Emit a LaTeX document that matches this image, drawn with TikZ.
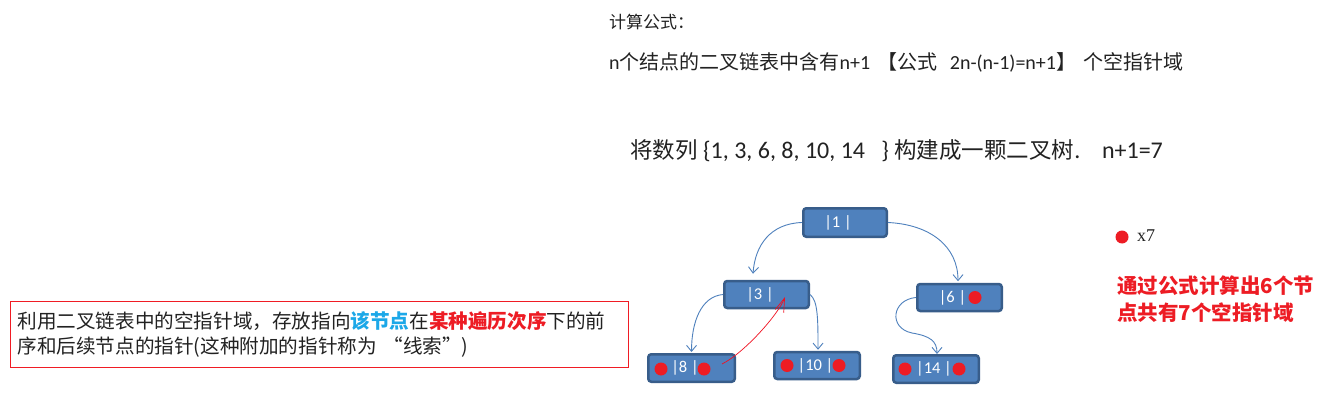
\documentclass[tikz,border=0pt]{standalone}
\usepackage{fontspec}
\setmainfont{Noto Sans CJK SC}
\newfontfamily\latinfont{Carlito}
\newfontfamily\seriffont{Liberation Serif}
\newcommand\lat[1]{{\latinfont #1}}
\usetikzlibrary{arrows.meta}
\definecolor{nodeblue}{HTML}{4F81BD}
\definecolor{nodeedge}{HTML}{385D8A}
\definecolor{dotred}{HTML}{ED1C24}
\definecolor{threadred}{HTML}{F01020}
\definecolor{hlblue}{HTML}{1CA8E8}
\definecolor{linkblue}{HTML}{4F81BD}
\definecolor{boxred}{HTML}{F01C24}
\definecolor{textgray}{HTML}{222222}
\begin{document}
\begin{tikzpicture}[x=1pt,y=-1pt,
  treenode/.style={rectangle, rounded corners=3pt, fill=nodeblue, draw=nodeedge, line width=2.5pt,
    minimum width=84.5pt, minimum height=27pt, inner sep=0pt},
  nodelabel/.style={text=white, font=\latinfont\fontsize{16.5}{16.5}\selectfont, inner sep=0pt},
  nulldot/.style={circle, fill=dotred, minimum size=13pt, inner sep=0pt},
  link/.style={draw=linkblue, line width=0.9pt, -{Straight Barb[length=6pt,width=10pt]}},
  thread/.style={draw=threadred, line width=0.7pt, -{Straight Barb[length=14pt,width=9pt]}},
  plain/.style={inner sep=0pt, anchor=west, text=textgray}
]
\useasboundingbox[fill=white] (0,0) rectangle (1340,406);

% top texts
\node[plain, font=\fontsize{17}{17}\selectfont] (head) at (609,22) {计算公式：};
\node[plain, font=\fontsize{20}{20}\selectfont] (formula) at (609,62)
  {\lat{n}个结点的二叉链表中含有\lat{n+1 \hspace{3pt}}【公式\lat{\ \ \hspace{3pt}2n-(n-1)=n+1}】\lat{\ \hspace{3pt}}个空指针域};
\node[plain, font=\fontsize{22.5}{22.5}\selectfont] (title) at (630,151)
  {将数列\lat{\fontsize{24}{24}\selectfont\ \{1, 3, 6, 8, 10, 14\ \ \ \}\ }构建成一颗二叉树\lat{\fontsize{24}{24}\selectfont.\ \ \ \ n+1=7}};

% tree nodes
\node[treenode, minimum width=83.5pt, minimum height=28.5pt] (n1) at (845,222.5) {};
\node[treenode] (n3) at (766.5,294.5) {};
\node[treenode] (n6) at (959.5,297.5) {};
\node[treenode, minimum height=27.5pt, minimum width=86.5pt] (n8) at (691.5,368) {};
\node[treenode, minimum width=85.5pt] (n10) at (817,365.5) {};
\node[treenode, minimum width=85.5pt, minimum height=27.5pt] (n14) at (936,369) {};

\node[nodelabel] (t1) at ([xshift=-7pt]n1.center) {|1 |};
\node[nodelabel] (t3) at ([xshift=-6.5pt]n3.center) {|3 |};
\node[nodelabel] (t6) at ([xshift=-7pt]n6.center) {|6 |};
\node[nodelabel] (t8) at ([xshift=-6.5pt]n8.center) {|8 |};
\node[nodelabel] (t10) at ([xshift=-1.5pt]n10.center) {|10 |};
\node[nodelabel] (t14) at ([xshift=-2pt]n14.center) {|14 |};

\node[nulldot] (d6r) at ([xshift=15.5pt]n6.center) {};
\node[nulldot] (d8l) at ([xshift=-30.5pt,yshift=-1pt]n8.center) {};
\node[nulldot] (d8r) at ([xshift=12.5pt,yshift=-1pt]n8.center) {};
\node[nulldot] (d10l) at ([xshift=-30pt]n10.center) {};
\node[nulldot] (d10r) at ([xshift=22pt]n10.center) {};
\node[nulldot] (d14l) at ([xshift=-31pt]n14.center) {};
\node[nulldot] (d14r) at ([xshift=23pt]n14.center) {};

% links
\draw[link] (n1.west) .. controls +(-32,1) and +(2,-28) .. ([xshift=-13.5pt,yshift=6pt]n3.north);
\draw[link] (n1.east) .. controls +(42,2) and +(0,-35) .. ([xshift=-1.5pt,yshift=1.5pt]n6.north);
\draw[link] (n3.west) .. controls +(-22,2) and +(0,-30) .. ([yshift=1pt]n8.north);
\draw[link] (n3.east) .. controls +(8,6) and +(0,-30) .. ([xshift=1pt,yshift=1pt]n10.north);
\coordinate (bend614) at (912,333);
\draw[link] (n6.west) .. controls +(-24,2) and +(-24,-5) .. (bend614)
  .. controls +(18,3) and +(0,-13) .. ([xshift=1pt]n14.north);

% thread
\draw[thread] ([xshift=30.5pt,yshift=4pt]n8.center) .. controls +(22,-11) and +(-7,18) .. ([xshift=18.5pt,yshift=-2.5pt]n3.center);

% right legend
\node[nulldot] (legdot) at (1122,237) {};
\node[plain, font=\seriffont\fontsize{18}{18}\selectfont] (legx) at (1137,236) {x7};
\node[plain, text=dotred, align=left, font=\bfseries\fontsize{20.5}{27}\selectfont] (count) at (1117,299.5)
  {通过公式计算出6个节\\点共有7个空指针域};

% note box
\node[draw=boxred, line width=0.9pt, anchor=north west, minimum width=618pt, minimum height=66pt,
  inner sep=0pt, text width=604pt, align=left, text=textgray, font=\fontsize{19.6}{25}\selectfont] (note) at (10,301)
  {利用二叉链表中的空指针域，存放指向\textcolor{hlblue}{\bfseries 该节点}在\textcolor{dotred}{\bfseries 某种遍历次序}下的前\\序和后续节点的指针(这种附加的指针称为 “线索”)};
\end{tikzpicture}
\end{document}
